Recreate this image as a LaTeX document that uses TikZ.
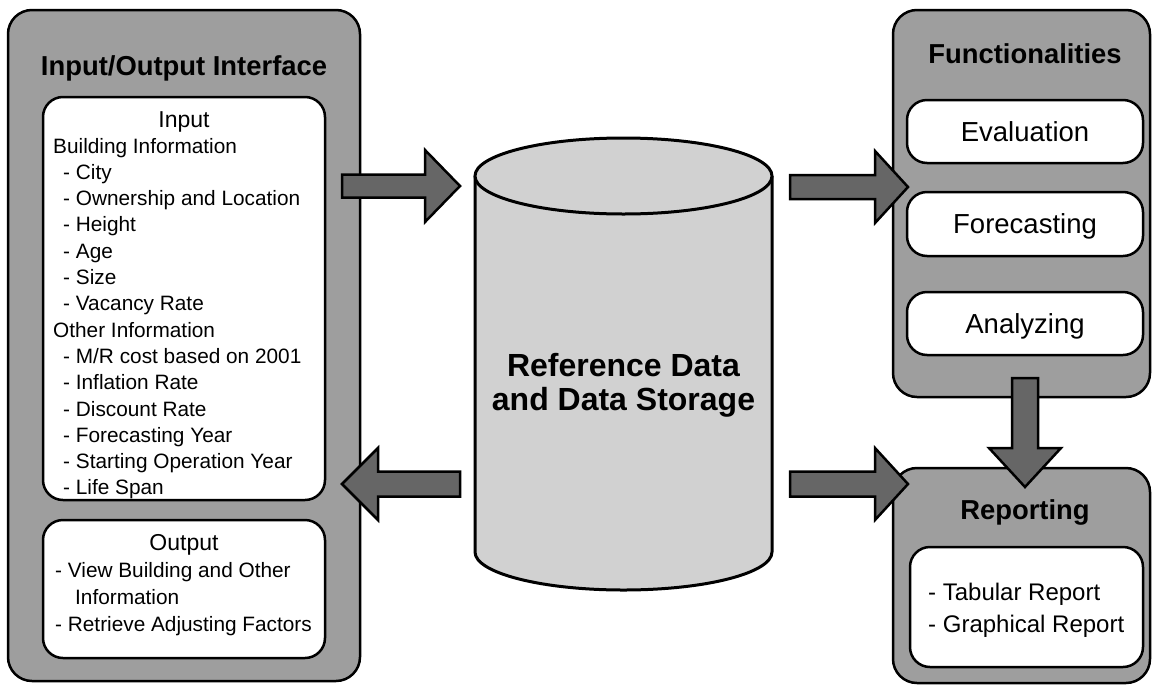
\documentclass[tikz,border=0pt]{standalone}
\usepackage{fontspec}
\setmainfont{Liberation Sans}
\usetikzlibrary{calc}

\definecolor{panelgray}{gray}{0.62}
\definecolor{drumgray}{gray}{0.82}
\definecolor{arrowgray}{gray}{0.40}

\tikzset{
  panel/.style={draw=black, line width=2.5pt, fill=panelgray, rounded corners=24pt,
                inner sep=0pt, outer sep=0pt},
  card/.style={draw=black, line width=2.5pt, fill=white, rounded corners=20pt,
               inner sep=0pt, outer sep=0pt},
  fncard/.style={card, font=\fontsize{27.5}{32}\selectfont, text height=19.7pt, text depth=0pt},
  paneltitle/.style={anchor=base, inner sep=0pt, font=\bfseries\fontsize{27.4}{31}\selectfont},
  listtext/.style={anchor=base west, inner sep=0pt, font=\fontsize{20.8}{26}\selectfont},
  listhead/.style={anchor=base, inner sep=0pt, font=\fontsize{23}{27}\selectfont},
  reptext/.style={anchor=base west, inner sep=0pt, font=\fontsize{24}{28}\selectfont},
  drumtext/.style={anchor=base, inner sep=0pt, font=\bfseries\fontsize{32}{36}\selectfont},
  blockarrow/.style={draw=black, line width=2.5pt, fill=arrowgray, line join=miter},
}

% block arrow: tail, tip, head length, shaft half-width, head half-width
\newcommand\blockarrow[5]{%
  \path ($(#2)!#3!(#1)$) coordinate (bahead);
  \filldraw[blockarrow]
    ($(#1)!#4!90:(#2)$) -- ($(bahead)!#4!-90:(#1)$) -- ($(bahead)!#5!-90:(#1)$)
    -- (#2)
    -- ($(bahead)!#5!90:(#1)$) -- ($(bahead)!#4!90:(#1)$) -- ($(#1)!#4!-90:(#2)$) -- cycle;
}

\begin{document}
\begin{tikzpicture}[x=1pt, y=-1pt]
\useasboundingbox (0,0) rectangle (1153,691);

% ---- input / output panel ----
\node[panel, minimum width=352pt, minimum height=671pt] (io) at (184,345.5) {};
\node[paneltitle] (iotitle) at (184,75) {Input/Output Interface};
\node[card, minimum width=282pt, minimum height=403pt] (input) at (184,298.5) {};
\node[card, minimum width=282pt, minimum height=138pt] (output) at (184,589) {};

\node[listhead] (inhead) at (184,127) {Input};
\foreach \x/\t [count=\i from 0] in {
    53/Building Information, 63/- City, 63/- Ownership and Location, 63/- Height,
    63/- Age, 63/- Size, 63/- Vacancy Rate, 53/Other Information,
    63/{- M/R cost based on 2001}, 63/- Inflation Rate, 63/- Discount Rate,
    63/- Forecasting Year, 63/- Starting Operation Year, 63/- Life Span}
  \node[listtext] (in\i) at (\x,153+26.3*\i) {\t};

\node[listhead] (outhead) at (184,550) {Output};
\node[listtext] (out1) at (55,577) {- View Building and Other};
\node[listtext] (out2) at (75,604) {Information};
\node[listtext] (out3) at (55,631) {- Retrieve Adjusting Factors};

% ---- functionalities panel ----
\node[panel, minimum width=257pt, minimum height=387pt] (fn) at (1021.5,203.5) {};
\node[paneltitle] (fntitle) at (1025,63) {Functionalities};
\node[fncard, minimum width=236pt, minimum height=63pt] (eval) at (1025,131.5) {Evaluation};
\node[fncard, minimum width=236pt, minimum height=64pt] (fore) at (1025,224) {Forecasting};
\node[fncard, minimum width=236pt, minimum height=63pt] (anal) at (1025,323.5) {Analyzing};

% ---- reporting panel ----
\node[panel, minimum width=257pt, minimum height=215pt] (rep) at (1021.5,575.5) {};
\node[paneltitle] (reptitle) at (1025,519) {Reporting};
\node[card, minimum width=233pt, minimum height=120pt] (repcard) at (1026.5,607) {};
\node[reptext] (rep1) at (928,600) {- Tabular Report};
\node[reptext] (rep2) at (928,632) {- Graphical Report};

% ---- data store drum ----
\fill[drumgray] (475,176) -- (475,552)
  arc[start angle=180, end angle=0, x radius=148.5, y radius=38] -- (772,176) -- cycle;
\draw[line width=3pt] (475,176) -- (475,552)
  arc[start angle=180, end angle=0, x radius=148.5, y radius=38] -- (772,176);
\filldraw[fill=drumgray, draw=black, line width=3pt] (623.5,176) ellipse[x radius=148.5, y radius=38];
\node[drumtext] (store1) at (623.5,376) {Reference Data};
\node[drumtext] (store2) at (623.5,410) {and Data Storage};

% ---- flow arrows ----
\coordinate (ioA) at (342,186);
\coordinate (drumA) at (460,186);
\coordinate (drumB) at (790,187);
\coordinate (fnA) at (908,187);
\coordinate (drumC) at (790,484);
\coordinate (repA) at (908,484);
\coordinate (drumD) at (460,484);
\coordinate (ioB) at (342,484);
\coordinate (fnB) at (1025,378);
\coordinate (repB) at (1025,487);

\blockarrow{ioA}{drumA}{35pt}{11.5pt}{36pt}
\blockarrow{drumB}{fnA}{33pt}{12pt}{36pt}
\blockarrow{drumC}{repA}{33pt}{12.5pt}{36pt}
\blockarrow{drumD}{ioB}{36pt}{12.5pt}{36pt}
\blockarrow{fnB}{repB}{39pt}{13pt}{36pt}
\end{tikzpicture}
\end{document}
